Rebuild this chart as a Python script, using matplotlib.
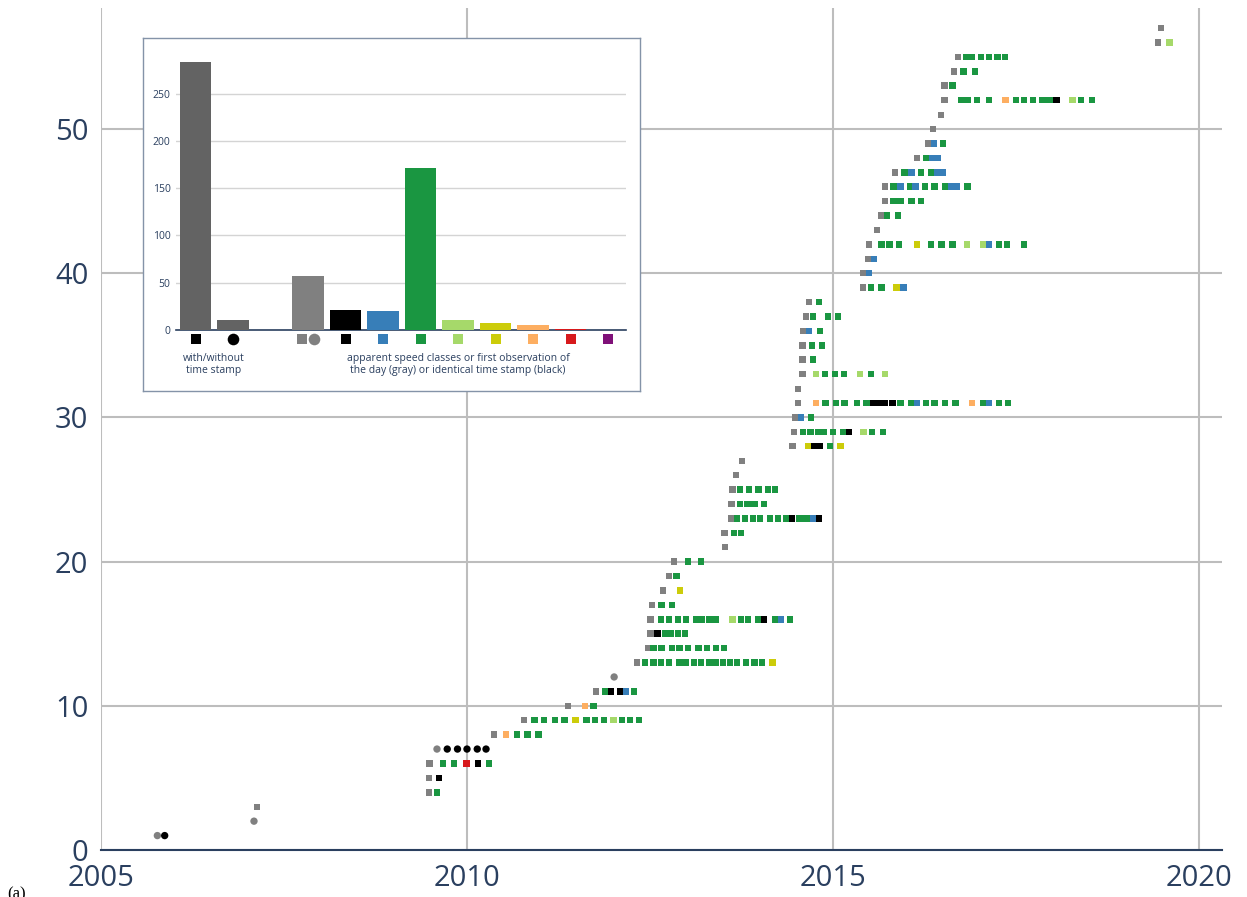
import matplotlib
matplotlib.use("Agg")
import matplotlib.pyplot as plt

plt.rcParams["font.family"] = ["Open Sans", "DejaVu Sans"]

# observations with time stamp: one row per object, x in decimal years
square_rows = [3, 4, 5, 6, 8, 9, 10, 11, 13, 14, 15, 16, 17, 18, 19, 20, 21, 22, 23, 24,
               25, 26, 27, 28, 29, 30, 31, 32, 33, 34, 35, 36, 37, 38, 39, 40, 41, 42, 43,
               44, 45, 46, 47, 48, 49, 50, 51, 52, 53, 54, 55, 56, 57]
square_years = [
    [2007.13],
    [2009.48, 2009.59],
    [2009.48, 2009.62],
    [2009.49, 2009.67, 2009.82, 2009.99, 2010.15, 2010.30],
    [2010.37, 2010.53, 2010.68, 2010.83, 2010.98],
    [2010.78, 2010.92, 2011.05, 2011.20, 2011.33, 2011.48, 2011.63, 2011.75, 2011.87,
     2012.00, 2012.12, 2012.23, 2012.35],
    [2011.38, 2011.61, 2011.73],
    [2011.76, 2011.89, 2011.97, 2012.09, 2012.17, 2012.28],
    [2012.32, 2012.43, 2012.55, 2012.65, 2012.76, 2012.90, 2012.99, 2013.10, 2013.20,
     2013.31, 2013.40, 2013.50, 2013.59, 2013.69, 2013.81, 2013.93, 2014.03, 2014.17],
    [2012.47, 2012.55, 2012.66, 2012.80, 2012.90, 2013.02, 2013.16, 2013.28, 2013.40, 2013.51],
    [2012.51, 2012.60, 2012.71, 2012.79, 2012.88, 2012.98],
    [2012.51, 2012.65, 2012.76, 2012.88, 2012.99, 2013.13, 2013.21, 2013.31, 2013.40,
     2013.63, 2013.74, 2013.84, 2013.98, 2014.06, 2014.21, 2014.29, 2014.41],
    [2012.53, 2012.66, 2012.80],
    [2012.68, 2012.91],
    [2012.76, 2012.86],
    [2012.83, 2013.02, 2013.20],
    [2013.52],
    [2013.52, 2013.65, 2013.74],
    [2013.61, 2013.69, 2013.80, 2013.91, 2014.00, 2014.14, 2014.25, 2014.36, 2014.44,
     2014.54, 2014.64, 2014.73, 2014.81],
    [2013.61, 2013.73, 2013.83, 2013.93, 2014.06],
    [2013.63, 2013.73, 2013.85, 2013.98, 2014.11, 2014.21],
    [2013.67],
    [2013.76],
    [2014.45, 2014.66, 2014.74, 2014.82, 2014.96, 2015.10],
    [2014.47, 2014.59, 2014.69, 2014.80, 2014.88, 2015.00, 2015.14, 2015.22, 2015.42,
     2015.53, 2015.68],
    [2014.48, 2014.56, 2014.70],
    [2014.52, 2014.77, 2014.90, 2015.04, 2015.16, 2015.33, 2015.46, 2015.55, 2015.63,
     2015.71, 2015.81, 2015.92, 2016.07, 2016.15, 2016.27, 2016.39, 2016.53, 2016.67,
     2016.90, 2017.05, 2017.13, 2017.27, 2017.39],
    [2014.52],
    [2014.58, 2014.77, 2014.89, 2015.03, 2015.15, 2015.37, 2015.52, 2015.71],
    [2014.58, 2014.73],
    [2014.58, 2014.71, 2014.85],
    [2014.59, 2014.67, 2014.82],
    [2014.63, 2014.73, 2014.93, 2015.07],
    [2014.67, 2014.81],
    [2015.41, 2015.52, 2015.66, 2015.87, 2015.96],
    [2015.41, 2015.49],
    [2015.48, 2015.56],
    [2015.49, 2015.66, 2015.77, 2015.90, 2016.15, 2016.34, 2016.48, 2016.63, 2016.83,
     2017.05, 2017.13, 2017.27, 2017.38, 2017.61],
    [2015.60],
    [2015.66, 2015.74, 2015.89],
    [2015.71, 2015.83, 2015.92, 2016.07, 2016.20],
    [2015.71, 2015.83, 2015.92, 2016.05, 2016.13, 2016.26, 2016.39, 2016.53, 2016.61,
     2016.69, 2016.84],
    [2015.85, 2015.98, 2016.07, 2016.20, 2016.34, 2016.42, 2016.50],
    [2016.15, 2016.27, 2016.35, 2016.43],
    [2016.30, 2016.38, 2016.50],
    [2016.37],
    [2016.48],
    [2016.52, 2016.75, 2016.84, 2016.97, 2017.13, 2017.36, 2017.50, 2017.61, 2017.73,
     2017.86, 2017.96, 2018.05, 2018.27, 2018.39, 2018.54],
    [2016.52, 2016.63],
    [2016.65, 2016.78, 2016.94],
    [2016.71, 2016.82, 2016.90, 2017.02, 2017.13, 2017.25, 2017.35],
    [2019.44, 2019.60],
    [2019.48],
]
# g first of day, k identical time stamp, b/d/l/y/o/r apparent speed classes
square_classes = [
    "g", "gd", "gk", "gddrkd", "goddd", "gddddydddlddd", "god", "gdkkbd",
    "gddddddddddddddddy", "gddddddddd", "gkdddd", "gddddddddldddkdbd", "gdd", "gy",
    "gd", "gdd", "g", "gdd", "gdddddddkddbk", "gdddd", "gddddd", "g", "g", "gykkdy",
    "gddddddkldd", "gbd", "godddddkkkkddbddddodbdd", "g", "gldddldl", "gd", "gdd",
    "gbd", "gddd", "gd", "gddyb", "gb", "gb", "gdddydddllbddd", "g", "gdd", "gdddd",
    "gdbdbdddbbd", "gdbddbb", "gdbb", "gbd", "g", "g", "gddddodddddkldd", "gd", "gdd",
    "gdddddd", "gl", "g",
]

# observations without time stamp
circle_rows = [1, 1, 2, 7, 7, 7, 7, 7, 7, 12]
circle_years = [2005.77, 2005.87, 2007.09, 2009.59, 2009.73, 2009.87, 2010.00, 2010.14,
                2010.26, 2012.01]
circle_classes = "gkggkkkkkg"

# inset counts
count_keys = ["with", "without", "g", "k", "b", "d", "l", "y", "o", "r", "p"]
count_values = [284, 10, 57, 21, 20, 171, 10, 7, 5, 1, 0]

colors = {
    "g": "#808080", "k": "#000000", "b": "#377eb8", "d": "#1a9641", "l": "#a6d96a",
    "y": "#cccc0a", "o": "#fdae61", "r": "#d7191c", "p": "#7f1078",
    "with": "#636363", "without": "#636363",
}
text_color = "#2a3f5f"

fig = plt.figure(figsize=(12.47, 8.97), dpi=100)

# main scatter
ax = fig.add_axes([101 / 1247, 47 / 897, 1121 / 1247, 842 / 897])
for row, yrs, cls in zip(square_rows, square_years, square_classes):
    ax.scatter(yrs, [row] * len(yrs), marker="s", s=22, linewidths=0,
               c=[colors[c] for c in cls], zorder=3)
ax.scatter(circle_years, circle_rows, marker="o", s=28, linewidths=0,
           c=[colors[c] for c in circle_classes], zorder=3)

ax.set_xlim(2005, 2005 + 1121 / 73.2)
ax.set_ylim(0, 842 / 14.42)
ax.set_xticks([2005, 2010, 2015, 2020])
ax.set_yticks(range(0, 60, 10))
ax.grid(True, color="#bdbdbd", lw=1.5)
ax.set_axisbelow(True)
for side in ["top", "right", "left"]:
    ax.spines[side].set_visible(False)
ax.spines["bottom"].set_color(text_color)
ax.spines["bottom"].set_linewidth(1.5)
ax.spines["bottom"].set_zorder(5)
ax.tick_params(axis="both", length=0, labelsize=21, labelcolor=text_color)
ax.tick_params(axis="x", pad=10)
ax.tick_params(axis="y", pad=9)

# inset frame
box = fig.add_axes([143 / 1247, 1 - 391 / 897, 497 / 1247, 353 / 897], zorder=3)
box.set_xticks([])
box.set_yticks([])
for sp in box.spines.values():
    sp.set_color("#8493a8")
    sp.set_linewidth(1.0)

# inset bar chart
bx = fig.add_axes([176 / 1247, 1 - 329.7 / 897, 450 / 1247, 284.7 / 897], zorder=4)
bx.patch.set_alpha(0)
positions = [0, 1] + list(range(3, 12))
bx.bar(positions, count_values, width=0.83, color=[colors[k] for k in count_keys],
       zorder=3)
bx.set_xlim(-0.52, 11.48)
bx.set_ylim(0, 302)
bx.set_yticks(range(0, 300, 50))
bx.set_xticks([])
bx.grid(True, axis="y", color="#d4d4d4", lw=1)
bx.set_axisbelow(True)
for side in ["top", "right", "left"]:
    bx.spines[side].set_visible(False)
bx.spines["bottom"].set_color(text_color)
bx.spines["bottom"].set_linewidth(1.2)
bx.tick_params(axis="y", length=0, labelsize=7.5, labelcolor=text_color, pad=4)

# symbol key under the bars
key_y = -9.9
bx.scatter([0], [key_y], marker="s", s=55, c="#000000", linewidths=0, clip_on=False)
bx.scatter([1], [key_y], marker="o", s=70, c="#000000", linewidths=0, clip_on=False)
bx.scatter([2.83], [key_y], marker="s", s=55, c=colors["g"], linewidths=0, clip_on=False)
bx.scatter([3.15], [key_y], marker="o", s=70, c=colors["g"], linewidths=0, clip_on=False)
for pos, key in zip(positions[3:], count_keys[3:]):
    bx.scatter([pos], [key_y], marker="s", s=55, c=colors[key], linewidths=0, clip_on=False)

bx.text(0.48, -24.5, "with/without\ntime stamp", ha="center", va="top", fontsize=7.5,
        color=text_color, linespacing=1.15, clip_on=False)
bx.text(7.0, -24.5, "apparent speed classes or first observation of\n"
        "the day (gray) or identical time stamp (black)", ha="center", va="top",
        fontsize=7.5, color=text_color, linespacing=1.15, clip_on=False)

fig.text(0.006, 1 - 886 / 897, "(a)", family="Liberation Serif", fontsize=12,
         va="top", ha="left", color="#000000")

fig.savefig("out.png", dpi=100)
